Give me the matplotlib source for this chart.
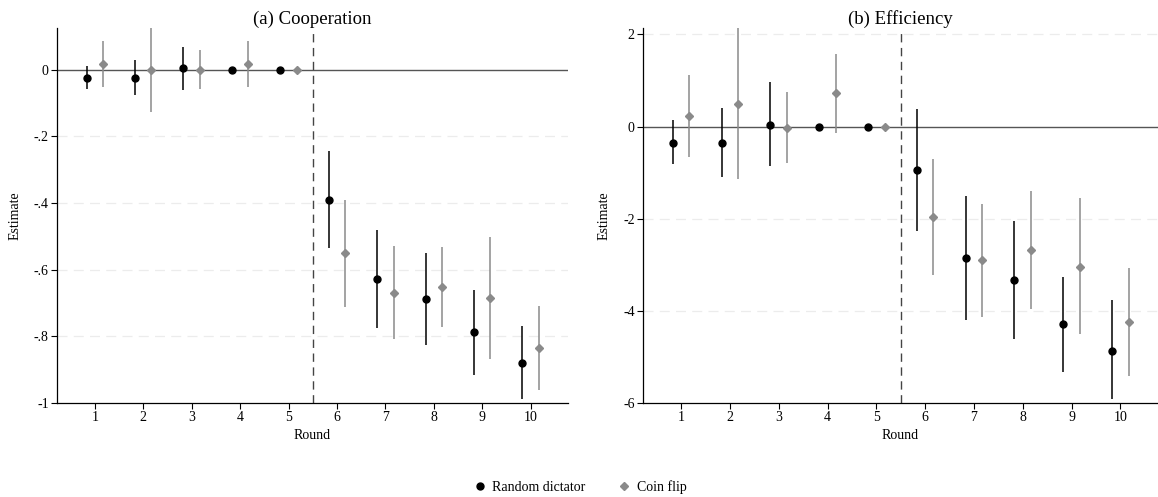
import numpy as np
import matplotlib
matplotlib.use("Agg")
import matplotlib.pyplot as plt
from matplotlib.lines import Line2D

plt.rcParams['font.family'] = ['Liberation Serif', 'DejaVu Serif']

rounds = np.arange(1, 11)

# (a) Cooperation
coop_rd = [-0.024, -0.024, 0.005, 0.0, 0.0, -0.390, -0.629, -0.689, -0.787, -0.879]
coop_rd_lo = [-0.057, -0.077, -0.060, np.nan, np.nan, -0.535, -0.776, -0.827, -0.915, -0.989]
coop_rd_hi = [0.010, 0.030, 0.068, np.nan, np.nan, -0.245, -0.480, -0.550, -0.661, -0.770]
coop_cf = [0.017, 0.0, 0.0, 0.017, 0.0, -0.551, -0.669, -0.652, -0.685, -0.836]
coop_cf_lo = [-0.052, -0.127, -0.057, -0.052, np.nan, -0.712, -0.808, -0.772, -0.869, -0.962]
coop_cf_hi = [0.085, 0.140, 0.058, 0.085, np.nan, -0.391, -0.529, -0.533, -0.502, -0.708]

# (b) Efficiency
eff_rd = [-0.35, -0.35, 0.04, 0.0, 0.0, -0.95, -2.86, -3.33, -4.29, -4.86]
eff_rd_lo = [-0.82, -1.09, -0.86, np.nan, np.nan, -2.27, -4.20, -4.61, -5.32, -5.92]
eff_rd_hi = [0.15, 0.40, 0.96, np.nan, np.nan, 0.38, -1.51, -2.05, -3.27, -3.77]
eff_cf = [0.23, 0.49, -0.02, 0.72, 0.0, -1.97, -2.90, -2.67, -3.04, -4.23]
eff_cf_lo = [-0.67, -1.13, -0.79, -0.13, np.nan, -3.23, -4.13, -3.95, -4.50, -5.41]
eff_cf_hi = [1.12, 2.30, 0.74, 1.57, np.nan, -0.71, -1.67, -1.39, -1.56, -3.06]

coop_ticks = [0, -0.2, -0.4, -0.6, -0.8, -1]
coop_ticklabels = ["0", "-.2", "-.4", "-.6", "-.8", "-1"]
eff_ticks = [2, 0, -2, -4, -6]
eff_ticklabels = ["2", "0", "-2", "-4", "-6"]

RD_COLOR = "black"
CF_COLOR = "#8a8a8a"
OFF = 0.17


def panel(ax, title, rd, rd_lo, rd_hi, cf, cf_lo, cf_hi, ylim, ticks, ticklabels, grid):
    for y in grid:
        ax.axhline(y, color="#ececec", lw=0.9, ls=(0, (8, 5)), zorder=0)
    ax.axhline(0, color="#555555", lw=1.0, zorder=1)
    ax.axvline(5.5, color="#444444", lw=1.0, ls=(0, (6, 4)), zorder=1)

    x_rd = rounds - OFF
    x_cf = rounds + OFF
    ax.vlines(x_rd, rd_lo, rd_hi, color=RD_COLOR, lw=1.1, zorder=2)
    ax.vlines(x_cf, cf_lo, cf_hi, color=CF_COLOR, lw=1.1, zorder=2)
    ax.plot(x_rd, rd, "o", color=RD_COLOR, ms=5, zorder=3)
    ax.plot(x_cf, cf, "D", color=CF_COLOR, ms=4.5, zorder=3)

    ax.set_xlim(0.22, 10.77)
    ax.set_ylim(*ylim)
    ax.set_xticks(rounds)
    ax.set_yticks(ticks)
    ax.set_yticklabels(ticklabels)
    ax.tick_params(labelsize=10, length=4, width=0.8, pad=2)
    for s in ["top", "right"]:
        ax.spines[s].set_visible(False)
    for s in ["left", "bottom"]:
        ax.spines[s].set_linewidth(0.9)
    ax.set_xlabel("Round", fontsize=10, labelpad=3)
    ax.set_ylabel("Estimate", fontsize=10, labelpad=9)
    ax.set_title(title, fontsize=13.5, pad=2)


fig = plt.figure(figsize=(11.58, 4.97), dpi=100)
ax1 = fig.add_axes([0.0492, 0.189, 0.4413, 0.7547])
ax2 = fig.add_axes([0.5553, 0.189, 0.4447, 0.7547])

panel(ax1, "(a) Cooperation", coop_rd, coop_rd_lo, coop_rd_hi,
      coop_cf, coop_cf_lo, coop_cf_hi, (-1, 0.125),
      coop_ticks, coop_ticklabels, [-0.2, -0.4, -0.6, -0.8])
panel(ax2, "(b) Efficiency", eff_rd, eff_rd_lo, eff_rd_hi,
      eff_cf, eff_cf_lo, eff_cf_hi, (-6, 2.14),
      eff_ticks, eff_ticklabels, [2, -2, -4])

handles = [
    Line2D([], [], marker="o", color=RD_COLOR, ls="none", ms=5),
    Line2D([], [], marker="D", color=CF_COLOR, ls="none", ms=4.5),
]
fig.legend(handles, ["Random dictator", "Coin flip"], loc="center",
           bbox_to_anchor=(0.5, 0.02), ncol=2, frameon=False, fontsize=10,
           handletextpad=0.3, columnspacing=2.2, handlelength=1.2)

fig.savefig("out.png", dpi=100)
